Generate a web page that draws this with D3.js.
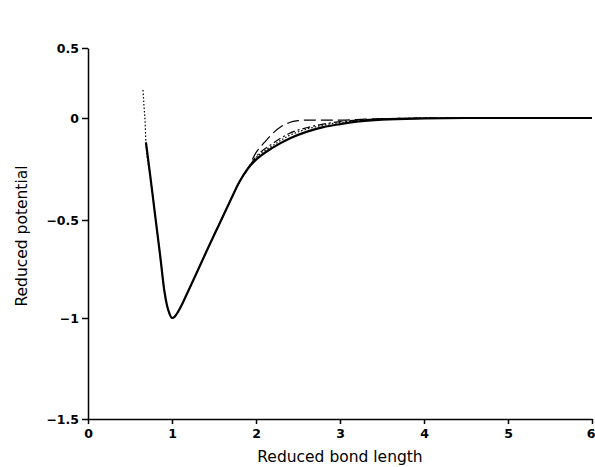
<!DOCTYPE html>
<html>
<head>
<meta charset="utf-8">
<script src="https://cdn.jsdelivr.net/npm/d3@7"></script>
<style>
  body { margin: 0; background: #fff; }
  svg { display: block; }
  .tick text { font-family: "DejaVu Sans", sans-serif; font-weight: bold; font-size: 12.5px; fill: #000; }
  .title { font-family: "DejaVu Sans", sans-serif; font-size: 15.5px; fill: #000; }
</style>
</head>
<body>
<div id="chart"></div>
<script>
// shared potential well (all curves coincide here)
const wellR = [0.69, 0.74, 0.80, 0.86, 0.91, 0.94, 0.97, 1.00, 1.03, 1.07, 1.12, 1.18, 1.25, 1.32, 1.40, 1.50, 1.60, 1.70, 1.80, 1.90]
const wellV = [-0.12, -0.28, -0.48, -0.685, -0.865, -0.935, -0.978, -1.0, -0.994, -0.97, -0.93, -0.875, -0.81, -0.745, -0.67, -0.578, -0.488, -0.40, -0.315, -0.25]

// tails where the curves part
const solidR = [2.0, 2.2, 2.4, 2.6, 2.8, 3.0, 3.2, 3.5, 4.0, 4.5, 6.0]
const solidV = [-0.205, -0.145, -0.10, -0.068, -0.045, -0.03, -0.018, -0.008, -0.002, 0, 0]

const dotHeadR = [0.655, 0.665, 0.68]
const dotHeadV = [0.2, 0.1, -0.02]
const dotR = [2.0, 2.2, 2.4, 2.6, 2.8, 3.0, 3.3, 3.7, 4.2, 6.0]
const dotV = [-0.195, -0.135, -0.085, -0.055, -0.035, -0.022, -0.01, -0.003, 0, 0]

const dashDotR = [2.0, 2.2, 2.4, 2.6, 2.8, 3.0, 3.3, 3.7, 4.2, 6.0]
const dashDotV = [-0.19, -0.125, -0.075, -0.048, -0.03, -0.018, -0.008, -0.002, 0, 0]

const longDashR = [1.9, 2.0, 2.1, 2.2, 2.3, 2.4, 2.5, 2.6, 2.8, 3.0, 3.3, 3.7, 6.0]
const longDashV = [-0.24, -0.17, -0.12, -0.075, -0.042, -0.022, -0.013, -0.01, -0.01, -0.01, -0.006, -0.002, 0]

const xTicks = [0, 1, 2, 3, 4, 5, 6]
const yTicks = [-1.5, -1, -0.5, 0, 0.5]

function pairs(rs, vs) {
    return rs.map((r, i) => [r, vs[i]])
}

var width = 595
var height = 467

var svg = d3.select("#chart")
            .append("svg")
            .attr("width", width)
            .attr("height", height)

var x = d3.scaleLinear()
            .domain([0, 6])
            .range([88, 592])

// the printed axis is slightly squeezed above zero
var y = d3.scaleLinear()
            .domain([-1.5, -1, -0.5, 0, 0.5])
            .range([419, 318, 220, 118, 48])

var fmt = d => d === 0 ? "0" : String(d).replace("-", "\u2212")

svg.append("g")
    .attr("transform", "translate(0,419)")
    .call(d3.axisBottom(x).tickValues(xTicks).tickFormat(d3.format("d")).tickSize(5).tickSizeOuter(0).tickPadding(5))
    .call(g => g.selectAll("path, line").attr("stroke", "#000").attr("stroke-width", 1.5))
    .call(g => g.selectAll(".tick:last-of-type text").attr("dx", -1.5))

svg.append("g")
    .attr("transform", "translate(88,0)")
    .call(d3.axisLeft(y).tickValues(yTicks).tickFormat(fmt).tickSize(6).tickSizeOuter(0).tickPadding(3))
    .call(g => g.selectAll("path, line").attr("stroke", "#000").attr("stroke-width", 1.5))

var line = d3.line()
            .x(d => x(d[0]))
            .y(d => y(d[1]))
            .curve(d3.curveMonotoneX)

var series = [
    { pts: pairs(wellR, wellV).concat(pairs(longDashR, longDashV).slice(1)).filter(d => d[0] >= 1.5), dash: "12,5", w: 1.2 },
    { pts: pairs(wellR, wellV).concat(pairs(dashDotR, dashDotV)).filter(d => d[0] >= 1.5), dash: "8,3,2,3", w: 1.2 },
    { pts: pairs(dotHeadR, dotHeadV).concat(pairs(wellR, wellV), pairs(dotR, dotV)), dash: "1.5,2", w: 1.2 },
    { pts: pairs(wellR, wellV).concat(pairs(solidR, solidV)), dash: null, w: 2.2 }
]

svg.append("g")
    .selectAll("path")
    .data(series)
    .enter()
    .append("path")
    .attr("fill", "none")
    .attr("stroke", "#000")
    .attr("stroke-width", d => d.w)
    .attr("stroke-dasharray", d => d.dash)
    .attr("d", d => line(d.pts))

svg.append("text")
    .attr("class", "title")
    .attr("x", 340)
    .attr("y", 462)
    .attr("text-anchor", "middle")
    .text("Reduced bond length")

svg.append("text")
    .attr("class", "title")
    .attr("transform", "translate(27,236) rotate(-90)")
    .attr("text-anchor", "middle")
    .text("Reduced potential")
</script>
</body>
</html>
